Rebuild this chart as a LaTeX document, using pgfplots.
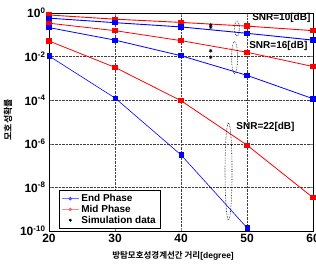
\documentclass[border=0pt]{standalone}
\usepackage{fontspec}
\setmainfont{Liberation Sans}
\newfontfamily\kr[BoldFont={Noto Sans CJK KR Bold}]{Noto Sans CJK KR}
\usepackage{pgfplots}
\pgfplotsset{compat=1.18}
\usetikzlibrary{calc}
\begin{document}
\begin{tikzpicture}
\begin{axis}[
  scale only axis, width=264pt, height=218pt,
  ymode=log, xmin=20, xmax=60, ymin=1e-10, ymax=1,
  xtick={20,30,40,50,60},
  ytick={1e-10,1e-8,1e-6,1e-4,1e-2,1},
  yticklabels={10\textsuperscript{-10},10\textsuperscript{-8},10\textsuperscript{-6},10\textsuperscript{-4},10\textsuperscript{-2},10\textsuperscript{0}},
  yminorticks=false,
  tick align=inside, major tick length=3pt,
  grid=major, grid style={densely dotted, black!75, line width=0.6pt},
  axis line style={black, line width=0.6pt},
  ticklabel style={font=\fontsize{12}{13}\selectfont\bfseries},
  xticklabel style={/pgf/number format/assume math mode=true},
  xlabel={\kr\bfseries\fontsize{8.5}{10}\selectfont 방탐모호성경계선간 거리\rmfamily\bfseries[degree]},
  ylabel={\kr\bfseries\fontsize{9}{10}\selectfont 모호성확률},
  xlabel style={at={(ticklabel cs:0.47)}, anchor=north, yshift=-1pt},
  ylabel style={at={(ticklabel cs:0.51)}, anchor=south, yshift=1pt},
  legend style={at={(0.038,0.01)}, anchor=south west, font=\fontsize{10}{11}\selectfont\bfseries, draw=black, line width=0.5pt, row sep=-2pt, inner sep=2pt},
  legend cell align=left,
  clip mode=global,
]
\addlegendimage{blue!55, line width=1pt, mark=*, mark size=1.2pt, mark options={blue!70}}
\addlegendentry{End Phase}
\addlegendimage{red!45, line width=1pt, mark=*, mark size=1.2pt, mark options={red!60}}
\addlegendentry{Mid Phase}
\addlegendimage{only marks, mark=*, mark size=1.2pt, black}
\addlegendentry{Simulation data}
% SNR=10
\addplot[red, line width=0.9pt, mark=square*, mark size=2.2pt, forget plot] coordinates {(20,0.81) (30,0.52) (40,0.37) (50,0.25) (60,0.155)};
\addplot[blue, line width=0.9pt, mark=square*, mark size=2.2pt, forget plot] coordinates {(20,0.58) (30,0.36) (40,0.23) (50,0.117) (60,0.057)};
% SNR=16
\addplot[red, line width=0.8pt, mark=square*, mark size=2.2pt, forget plot] coordinates {(20,0.34) (30,0.155) (40,0.054) (50,0.0158) (60,0.0035)};
\addplot[blue, line width=0.8pt, mark=square*, mark size=2.2pt, forget plot] coordinates {(20,0.214) (30,0.057) (40,0.011) (50,0.00138) (60,0.000117)};
% SNR=22
\addplot[red, line width=0.8pt, mark=square*, mark size=2.2pt, forget plot] coordinates {(20,0.052) (30,0.0032) (40,9.5e-5) (50,8.7e-7) (60,3.4e-9)};
\addplot[blue, line width=0.6pt, mark=square*, mark size=2.2pt, forget plot] coordinates {(20,0.0107) (30,1.26e-4) (40,3.1e-7) (50,1.4e-10) (60,6.3e-14)};
% simulation
\addplot[only marks, mark=asterisk, mark size=1.8pt, black, line width=0.6pt, forget plot] coordinates {(44.5,0.28) (44.5,0.22) (44.5,0.0186) (44.5,0.0093)};
% ellipses
\draw[densely dotted, black, line width=0.6pt] (axis cs:48.48,0.195) ellipse [x radius=2.4pt, y radius=7.5pt];
\draw[densely dotted, black, line width=0.6pt] (axis cs:48.12,0.0091) ellipse [x radius=3pt, y radius=16pt];
\draw[densely dotted, black, line width=0.6pt] (axis cs:47.2,5.4e-8) ellipse [x radius=3.5pt, y radius=48.5pt];
\node[font=\fontsize{10}{11}\selectfont\bfseries] at (axis cs:55.2,0.59) {SNR=10[dB]};
\node[font=\fontsize{10}{11}\selectfont\bfseries] at (axis cs:54.75,0.031) {SNR=16[dB]};
\node[font=\fontsize{10}{11}\selectfont\bfseries] at (axis cs:52.8,5.9e-6) {SNR=22[dB]};
\end{axis}
\pgfresetboundingbox
\path[use as bounding box] ($(current axis.south west)+(-49pt,-38pt)$) rectangle ($(current axis.north east)+(3pt,13pt)$);
\end{tikzpicture}
\end{document}
